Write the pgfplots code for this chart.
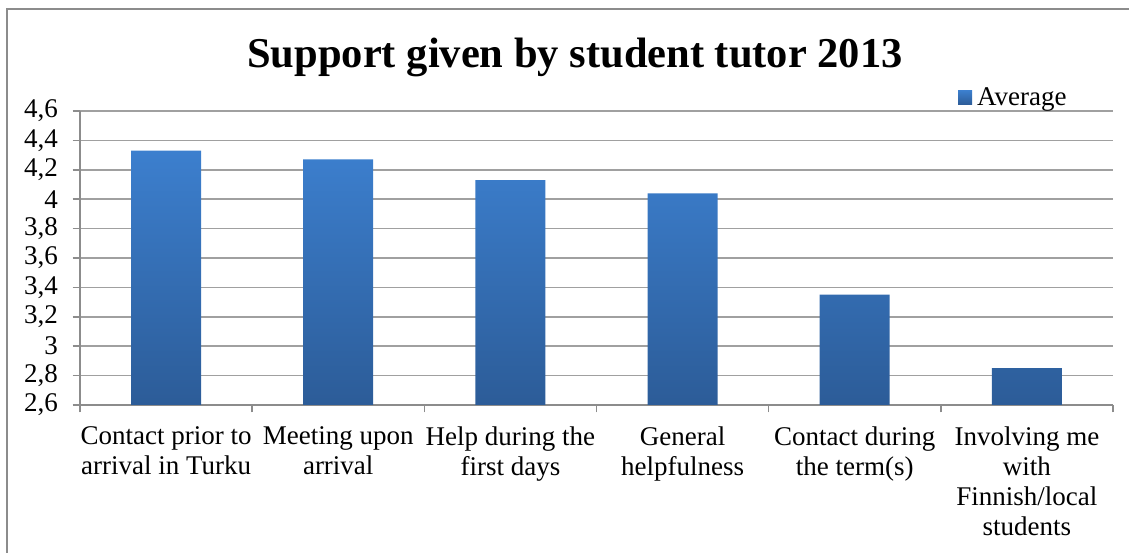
\documentclass[border=0pt]{standalone}
\usepackage{fontspec}
\setmainfont{Liberation Serif}
\usepackage{pgfplots}
\pgfplotsset{compat=1.18}
\definecolor{bartop}{RGB}{60,127,206}
\definecolor{barbot}{RGB}{44,92,152}
\definecolor{gridc}{RGB}{160,160,160}
\definecolor{axisc}{RGB}{140,140,140}
\begin{document}
\begin{tikzpicture}[x=1bp,y=1bp]
\useasboundingbox (0,0) rectangle (1129,553);
\draw[axisc, line width=1.5bp] (7,0) -- (7,544) -- (1129,544);
\node[anchor=base, inner sep=0pt, font=\bfseries\fontsize{42.5bp}{50bp}\selectfont] at (575,485) {Support given by student tutor 2013};
\begin{axis}[
  at={(80bp,148bp)}, anchor=south west,
  scale only axis, width=1033bp, height=294bp,
  xmin=-0.5, xmax=5.5, ymin=2.6, ymax=4.6,
  axis lines*=left,
  axis line style={-, draw=axisc, line width=1.5bp},
  ytick={2.6,2.8,3,3.2,3.4,3.6,3.8,4,4.2,4.4,4.6},
  xtick={-0.5,0.5,1.5,2.5,3.5,4.5,5.5},
  xticklabels={{Contact prior to\\arrival in Turku},{Meeting upon\\arrival},{Help during the\\first days},{General\\helpfulness},{Contact during\\the term(s)},{Involving me\\with\\Finnish/local\\students},{}},
  tick align=outside,
  major tick length=7.5bp,
  tick style={draw=axisc, line width=1.5bp},
  ymajorgrids,
  grid style={draw=gridc, line width=1.5bp},
  /pgf/number format/use comma,
  /pgf/number format/assume math mode=true,
  tick label style={font=\fontsize{27bp}{30bp}\selectfont},
  yticklabel style={anchor=east, xshift=-11bp},
  xticklabel style={anchor=north, align=center, xshift=86.08bp, yshift=-11bp},
  legend style={at={(0.85,1.046)}, anchor=west, draw=none, fill=none, inner sep=0pt,
    font=\fontsize{27bp}{30bp}\selectfont},
  legend image code/.code={\shade[top color=bartop,bottom color=barbot] (0bp,-7bp) rectangle (14bp,7bp);},
]
\addplot[ybar, bar width=70bp, draw=none, top color=bartop, bottom color=barbot] coordinates {
  (0,4.33) (1,4.27) (2,4.13) (3,4.04) (4,3.35) (5,2.85)
};
\addlegendentry{\hspace*{3bp}Average}
\end{axis}
\end{tikzpicture}
\end{document}
